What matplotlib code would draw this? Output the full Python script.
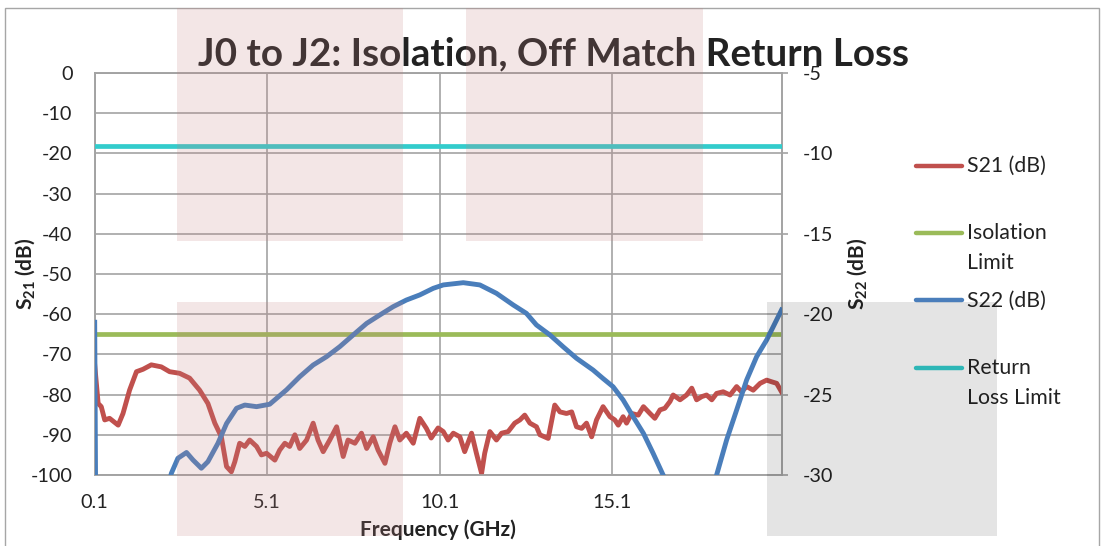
import matplotlib
matplotlib.use('Agg')
import matplotlib.pyplot as plt
from matplotlib.patches import Rectangle
from matplotlib.lines import Line2D

# ---------------- data ----------------
s21_freq = [0.1, 0.2, 0.29, 0.39, 0.53, 0.78, 0.92, 1.11, 1.31, 1.5, 1.74, 2.03, 2.27, 2.56,
            2.85, 3.14, 3.38, 3.58, 3.77, 3.92, 4.06, 4.16, 4.3, 4.45, 4.59, 4.79, 4.93,
            5.08, 5.32, 5.46, 5.61, 5.75, 5.9, 6.04, 6.24, 6.43, 6.57, 6.72, 6.91, 7.11,
            7.3, 7.44, 7.64, 7.83, 7.98, 8.17, 8.31, 8.51, 8.65, 8.8, 8.94, 9.13, 9.33,
            9.52, 9.71, 9.85, 10.05, 10.2, 10.34, 10.49, 10.68, 10.82, 11.02, 11.16, 11.31,
            11.4, 11.55, 11.74, 11.89, 12.08, 12.27, 12.42, 12.56, 12.71, 12.9, 13.0, 13.24,
            13.43, 13.58, 13.77, 13.92, 14.06, 14.21, 14.35, 14.5, 14.64, 14.83, 15.03,
            15.17, 15.27, 15.41, 15.51, 15.66, 15.85, 16.0, 16.19, 16.33, 16.48, 16.62,
            16.77, 16.86, 17.06, 17.25, 17.4, 17.54, 17.69, 17.83, 17.98, 18.12, 18.31,
            18.51, 18.7, 18.84, 18.99, 19.18, 19.38, 19.57, 19.71, 19.86, 20.0]
s21_db = [-72.6, -82.2, -83.0, -86.3, -85.9, -87.6, -84.7, -78.9, -74.3, -73.7, -72.6, -73.1,
          -74.3, -74.7, -75.9, -78.9, -82.2, -87.1, -90.5, -97.9, -99.2, -96.7, -92.1, -92.9,
          -91.3, -92.9, -95.0, -94.6, -96.3, -93.8, -92.1, -92.9, -90.0, -93.4, -91.3, -87.1,
          -91.3, -94.2, -91.3, -88.0, -95.4, -91.3, -92.1, -89.6, -93.4, -90.5, -93.8, -97.1,
          -92.1, -88.0, -91.3, -89.6, -92.1, -85.9, -88.4, -90.8, -88.3, -89.2, -91.3, -89.6,
          -90.5, -94.2, -89.6, -94.6, -99.6, -94.6, -89.2, -91.3, -89.6, -89.2, -87.1, -86.3,
          -85.1, -87.1, -88.0, -90.0, -90.9, -82.6, -84.3, -84.7, -84.3, -88.0, -88.4, -87.1,
          -90.5, -86.3, -83.0, -85.5, -86.3, -87.6, -85.5, -87.1, -84.7, -85.1, -83.0, -84.7,
          -85.9, -83.8, -83.4, -81.7, -80.1, -81.3, -80.1, -78.4, -81.3, -80.5, -80.1, -81.3,
          -79.7, -79.3, -80.1, -78.0, -79.3, -78.0, -78.9, -77.2, -76.4, -76.8, -77.2, -79.3]

s22_freq = [0.1, 0.15, 1.0, 2.0, 2.32, 2.51, 2.76, 2.95, 3.19, 3.38, 3.67, 3.92, 4.21, 4.45,
            4.79, 5.17, 5.66, 6.04, 6.43, 6.82, 7.2, 7.59, 7.98, 8.36, 8.75, 9.13, 9.52,
            9.91, 10.2, 10.78, 11.26, 11.74, 12.23, 12.61, 12.9, 13.29, 13.67, 14.06, 14.54,
            14.83, 15.12, 15.41, 15.7, 16.0, 16.28, 16.57, 17.0, 17.5, 17.9, 18.12, 18.41,
            18.7, 18.99, 19.28, 19.57, 19.76, 20.0]
s22_db = [-20.5, -40.0, -45.0, -33.0, -29.9, -28.96, -28.6, -29.07, -29.58, -29.17, -28.03,
          -26.8, -25.85, -25.65, -25.75, -25.6, -24.7, -23.89, -23.16, -22.64, -22.02, -21.29,
          -20.57, -20.05, -19.53, -19.12, -18.8, -18.39, -18.18, -18.04, -18.18, -18.7, -19.43,
          -19.95, -20.67, -21.29, -22.02, -22.74, -23.47, -24.0, -24.51, -25.33, -26.37,
          -27.41, -28.65, -30.0, -32.0, -34.0, -32.5, -30.0, -27.82, -25.96, -24.09, -22.64,
          -21.6, -20.78, -19.74]

isolation_limit_db = -65.0
return_loss_limit_db = -9.54

x_ticks = [0.1, 5.1, 10.1, 15.1]
x_tick_labels = ['0.1', '5.1', '10.1', '15.1']
left_ticks = [-100, -90, -80, -70, -60, -50, -40, -30, -20, -10, 0]
right_ticks = [-30, -25, -20, -15, -10, -5]
series_labels = ['S21 (dB)', 'Isolation\nLimit', 'S22 (dB)', 'Return\nLoss Limit']
title_text = 'J0 to J2: Isolation, Off Match Return Loss'

# ---------------- style ----------------
plt.rcParams['font.family'] = ['Lato', 'DejaVu Sans']
plt.rcParams['mathtext.fontset'] = 'custom'
plt.rcParams['mathtext.rm'] = 'Lato'
plt.rcParams['mathtext.bf'] = 'Lato:bold'
plt.rcParams['mathtext.it'] = 'Lato:italic'

C_RED = '#C0504D'
C_GREEN = '#9BBB59'
C_BLUE = '#4A7EBB'
C_CYAN = '#33CCCC'
C_GRID = '#a3a3a3'
C_TEXT = '#222222'
FS_TICK = 14.3
FS_LAB = 15.0
FS_LEG = 15.3

W, H = 1101, 546
fig = plt.figure(figsize=(W / 100, H / 100), dpi=100)

def fx(px):
    return px / W

def fy(py):
    return 1 - py / H

L, R, T, B = 94.7, 781.5, 73.0, 475.0
ax = fig.add_axes([fx(L), fy(B), (R - L) / W, (B - T) / H])
ax2 = ax.twinx()

xmin, xmax = s21_freq[0], s21_freq[-1]
ax.set_xlim(xmin, xmax)
ax.set_ylim(-100, 0)
ax2.set_ylim(-30, -5)

ax.plot(s21_freq, s21_db, color=C_RED, lw=3.5, solid_joinstyle='round', zorder=3)
ax.plot([xmin, xmax], [isolation_limit_db] * 2, color=C_GREEN, lw=3.4, zorder=3)
ax2.plot(s22_freq, s22_db, color=C_BLUE, lw=3.5, solid_joinstyle='round', zorder=3)
ax2.plot([xmin, xmax], [return_loss_limit_db] * 2, color=C_CYAN, lw=3.4, zorder=3)

ax.set_xticks(x_ticks)
ax.set_xticklabels(x_tick_labels)
ax.set_yticks(left_ticks)
ax.set_yticklabels([str(v) for v in left_ticks])
ax2.set_yticks(right_ticks)
ax2.set_yticklabels([str(v) for v in right_ticks])

ax.grid(True, color=C_GRID, lw=1.2)
ax.set_axisbelow(True)
for a in (ax, ax2):
    for s in a.spines.values():
        s.set_color(C_GRID)
        s.set_linewidth(1.2)

ax.tick_params(axis='x', length=0, pad=14.0, labelsize=FS_TICK, labelcolor=C_TEXT)
ax.tick_params(axis='y', length=0, pad=16.0, labelsize=FS_TICK, labelcolor=C_TEXT)
ax2.tick_params(axis='y', length=4.6, width=1.2, color=C_GRID, pad=10.5,
                labelsize=FS_TICK, labelcolor=C_TEXT)

ax.set_xlabel('Frequency (GHz)', fontsize=FS_LAB, fontweight='bold', color=C_TEXT)
ax.xaxis.set_label_coords(0.5, -(530 - B) / (B - T))
ax.xaxis.label.set_va('center')
ax.set_ylabel(r'$\mathbf{S_{21}}$ (dB)', fontsize=FS_LAB, fontweight='bold', color=C_TEXT)
ax.yaxis.set_label_coords((25 - L) / (R - L), 0.5)
ax.yaxis.label.set_va('center')
ax2.set_ylabel(r'$\mathbf{S_{22}}$ (dB)', fontsize=FS_LAB, fontweight='bold', color=C_TEXT,
               rotation=90)
ax2.yaxis.set_label_coords((857 - L) / (R - L), 0.5)
ax2.yaxis.label.set_va('center')

fig.text(fx(553), fy(65), title_text, fontsize=27.8, fontweight='bold', color=C_TEXT,
         ha='center', va='baseline')

# legend (drawn as in the spreadsheet: handle aligned with first text line)
leg_colors = [C_RED, C_GREEN, C_BLUE, C_CYAN]
leg_y = [165.5, 232.7, 300.0, 367.7]
for lab, col, y in zip(series_labels, leg_colors, leg_y):
    fig.add_artist(Line2D([fx(916), fx(962)], [fy(y), fy(y)], color=col, lw=3.2,
                          solid_capstyle='round', transform=fig.transFigure))
    fig.text(fx(967), fy(y - 9.5), lab, fontsize=FS_LEG, color=C_TEXT, ha='left', va='top',
             linespacing=1.6, transform=fig.transFigure)

# chart border
fig.add_artist(Rectangle((fx(5), fy(560)), fx(1094), (560 - 8) / H, fill=False,
                         edgecolor='#a6a6a6', lw=1.0, transform=fig.transFigure, zorder=1))

# translucent overlays present in the image
pink = (0.765, 0.51, 0.51)
for (x0, y0, x1, y1) in [(177, 8, 403, 241), (466, 8, 703, 241), (177, 302, 403, 536)]:
    fig.add_artist(Rectangle((fx(x0), fy(y1)), (x1 - x0) / W, (y1 - y0) / H,
                             facecolor=pink, alpha=0.2, edgecolor='none',
                             transform=fig.transFigure, zorder=20))
fig.add_artist(Rectangle((fx(767), fy(536)), (997 - 767) / W, (536 - 302) / H,
                         facecolor='black', alpha=0.105, edgecolor='none',
                         transform=fig.transFigure, zorder=20))

fig.savefig('out.png', dpi=100)
